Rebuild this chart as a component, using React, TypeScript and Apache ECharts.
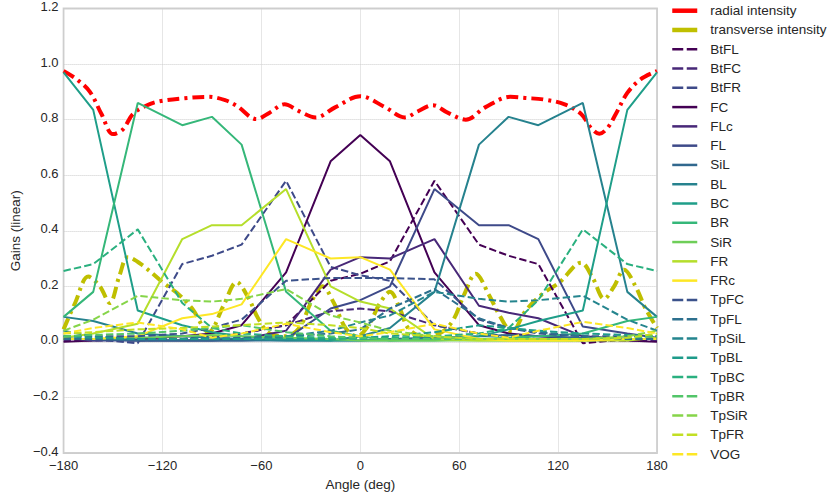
import React, { useEffect, useRef } from "react";
import * as echarts from "echarts";

// Speaker sample angles (deg)
const ANGLES = [-180, -162, -135, -108, -90, -72, -45, -18, 0, 18, 45, 72, 90, 108, 135, 162, 180];

// Intensity curves (smooth)
const RADIAL_ANGLES = [-180, -172, -164, -157, -150, -144, -138, -130, -122, -107, -92, -82, -75, -63, -55, -46, -37, -27, -15, 0, 15, 27, 35, 44, 53, 64, 76, 91, 100, 112, 124, 134, 140, 145, 150, 155, 162, 170, 180];
const RADIAL = [0.975, 0.945, 0.9, 0.82, 0.748, 0.765, 0.82, 0.85, 0.866, 0.877, 0.882, 0.87, 0.85, 0.802, 0.825, 0.855, 0.83, 0.808, 0.845, 0.884, 0.845, 0.808, 0.83, 0.852, 0.825, 0.8, 0.845, 0.882, 0.878, 0.872, 0.855, 0.82, 0.77, 0.749, 0.77, 0.82, 0.896, 0.945, 0.975];

const TRANS_ANGLES = [-180, -173, -165, -158, -152, -146, -141, -132, -120, -110, -102, -92, -83, -75, -68, -62, -55, -45, -37, -30, -23, -16, -9, -2, 5, 12, 18, 24, 29, 38, 48, 56, 63, 70, 78, 85, 92, 100, 110, 121, 134, 141, 148, 154, 160, 167, 173, 180];
const TRANS = [0.045, 0.14, 0.235, 0.2, 0.14, 0.24, 0.305, 0.275, 0.215, 0.17, 0.12, 0.035, 0.13, 0.215, 0.16, 0.085, 0.03, 0.02, 0.05, 0.14, 0.2, 0.14, 0.05, 0.02, 0.06, 0.14, 0.18, 0.12, 0.05, 0.02, 0.03, 0.075, 0.17, 0.245, 0.17, 0.09, 0.035, 0.11, 0.17, 0.215, 0.285, 0.23, 0.155, 0.2, 0.26, 0.2, 0.12, 0.05];

// Bottom layer
const BtFL = [0.01, 0.01, 0.01, 0.01, 0.02, 0.03, 0.06, 0.22, 0.245, 0.29, 0.58, 0.35, 0.31, 0.28, -0.005, 0.01, 0.01];
const BtFC = [0.005, 0.005, 0.005, 0.01, 0.015, 0.03, 0.06, 0.11, 0.12, 0.11, 0.06, 0.03, 0.015, 0.01, 0.005, 0.005, 0.005];
const BtFR = [0.01, 0.01, -0.005, 0.28, 0.31, 0.35, 0.58, 0.27, 0.24, 0.22, 0.06, 0.03, 0.02, 0.01, 0.01, 0.01, 0.01];

// Main layer
const FC = [0.0, 0.005, 0.01, 0.02, 0.03, 0.06, 0.25, 0.65, 0.745, 0.65, 0.25, 0.06, 0.03, 0.02, 0.01, 0.005, 0.0];
const FLc = [0.01, 0.01, 0.005, 0.005, 0.005, 0.01, 0.04, 0.26, 0.305, 0.3, 0.37, 0.13, 0.105, 0.085, 0.02, 0.01, 0.01];
const FL = [0.015, 0.005, 0.005, 0.005, 0.005, 0.005, 0.01, 0.12, 0.15, 0.2, 0.55, 0.42, 0.42, 0.37, 0.055, 0.03, 0.015];
const SiL = [0.01, 0.01, 0.005, 0.005, 0.005, 0.005, 0.005, 0.005, 0.005, 0.01, 0.015, 0.02, 0.025, 0.02, 0.015, 0.01, 0.01];
const BL = [0.09, 0.075, 0.03, 0.02, 0.015, 0.01, 0.005, 0.005, 0.02, 0.05, 0.18, 0.71, 0.81, 0.78, 0.86, 0.18, 0.09];
const BC = [0.97, 0.835, 0.113, 0.06, 0.035, 0.02, 0.01, 0.005, 0.005, 0.005, 0.01, 0.02, 0.045, 0.075, 0.113, 0.835, 0.97];
const BR = [0.09, 0.18, 0.86, 0.78, 0.81, 0.71, 0.18, 0.04, 0.02, 0.005, 0.005, 0.01, 0.015, 0.02, 0.03, 0.075, 0.09];
const SiR = [0.01, 0.01, 0.015, 0.02, 0.025, 0.02, 0.015, 0.01, 0.005, 0.005, 0.005, 0.005, 0.005, 0.005, 0.005, 0.01, 0.01];
const FR = [0.015, 0.03, 0.065, 0.37, 0.42, 0.42, 0.55, 0.2, 0.145, 0.12, 0.01, 0.005, 0.005, 0.005, 0.005, 0.005, 0.015];
const FRc = [0.01, 0.01, 0.02, 0.085, 0.1, 0.135, 0.37, 0.3, 0.305, 0.26, 0.045, 0.01, 0.005, 0.005, 0.005, 0.01, 0.01];

// Top layer
const TpFC = [0.02, 0.02, 0.02, 0.03, 0.05, 0.08, 0.22, 0.23, 0.23, 0.23, 0.225, 0.08, 0.05, 0.03, 0.02, 0.02, 0.02];
const TpFL = [0.01, 0.01, 0.01, 0.01, 0.01, 0.015, 0.02, 0.03, 0.045, 0.12, 0.19, 0.085, 0.05, 0.035, 0.02, 0.01, 0.01];
const TpSiL = [0.04, 0.02, 0.01, 0.01, 0.01, 0.01, 0.02, 0.04, 0.07, 0.095, 0.18, 0.155, 0.145, 0.15, 0.166, 0.08, 0.04];
const TpBL = [0.02, 0.015, 0.01, 0.01, 0.01, 0.01, 0.01, 0.01, 0.015, 0.02, 0.035, 0.06, 0.05, 0.04, 0.03, 0.025, 0.02];
const TpBC = [0.255, 0.28, 0.405, 0.14, 0.05, 0.03, 0.02, 0.015, 0.01, 0.015, 0.02, 0.03, 0.05, 0.15, 0.405, 0.28, 0.255];
const TpBR = [0.02, 0.025, 0.03, 0.04, 0.05, 0.06, 0.035, 0.02, 0.015, 0.01, 0.01, 0.01, 0.01, 0.01, 0.01, 0.015, 0.02];
const TpSiR = [0.04, 0.08, 0.166, 0.15, 0.145, 0.155, 0.19, 0.095, 0.07, 0.04, 0.02, 0.01, 0.01, 0.01, 0.01, 0.02, 0.04];
const TpFR = [0.03, 0.035, 0.045, 0.05, 0.055, 0.06, 0.07, 0.06, 0.05, 0.03, 0.02, 0.01, 0.01, 0.01, 0.01, 0.015, 0.03];
const VOG = [0.03, 0.05, 0.07, 0.045, 0.015, 0.03, 0.065, 0.035, 0.02, 0.035, 0.065, 0.03, 0.015, 0.04, 0.072, 0.05, 0.03];

const BT_NAMES = ["BtFL", "BtFC", "BtFR"];
const BT_VALUES = [BtFL, BtFC, BtFR];
const BT_COLORS = ["#440154", "#482878", "#3e4a89"];

const MAIN_NAMES = ["FC", "FLc", "FL", "SiL", "BL", "BC", "BR", "SiR", "FR", "FRc"];
const MAIN_VALUES = [FC, FLc, FL, SiL, BL, BC, BR, SiR, FR, FRc];
const MAIN_COLORS = ["#440154", "#482878", "#3e4a89", "#31688e", "#26828e", "#1f9e89", "#35b779", "#6ece58", "#b5de2b", "#fde725"];

const TP_NAMES = ["TpFC", "TpFL", "TpSiL", "TpBL", "TpBC", "TpBR", "TpSiR", "TpFR", "VOG"];
const TP_VALUES = [TpFC, TpFL, TpSiL, TpBL, TpBC, TpBR, TpSiR, TpFR, VOG];
const TP_COLORS = ["#3b528b", "#2d708e", "#25858e", "#1e9b8a", "#2ab07f", "#52c569", "#86d549", "#c2df23", "#fde725"];

const X_TICKS = [-180, -120, -60, 0, 60, 120, 180];

const FONT = "'Liberation Sans', Arial, Helvetica, sans-serif";
const TEXT_COLOR = "#262626";
const DASH = [7.4, 3.2];
const DASH_DOT = [12, 5, 3, 5];

const pairs = (xs: number[], ys: number[]) => xs.map((x, i) => [x, ys[i]]);
const fmt = (v: number, d: number) => v.toFixed(d).replace("-", "\u2212");

export default function App() {
  const ref = useRef<HTMLDivElement>(null);

  useEffect(() => {
    if (!ref.current) return;
    const chart = echarts.init(ref.current, undefined, { renderer: "svg" });

    const series: any[] = [];
    const legendData: any[] = [];
    const hiddenSymbol = { opacity: 0, borderWidth: 0 };

    series.push({
      name: "radial intensity",
      type: "line",
      data: pairs(RADIAL_ANGLES, RADIAL),
      smooth: 0.35,
      symbol: "none",
      lineStyle: { color: "#ff0000", width: 4, type: DASH_DOT },
      itemStyle: { color: "#ff0000" },
    });
    legendData.push({ name: "radial intensity", itemStyle: hiddenSymbol, lineStyle: { type: "solid", width: 4.5 } });

    series.push({
      name: "transverse intensity",
      type: "line",
      data: pairs(TRANS_ANGLES, TRANS),
      smooth: 0.35,
      symbol: "none",
      lineStyle: { color: "#bfbf00", width: 4, type: DASH_DOT },
      itemStyle: { color: "#bfbf00" },
    });
    legendData.push({ name: "transverse intensity", itemStyle: hiddenSymbol, lineStyle: { type: "solid", width: 4.5 } });

    const addGroup = (names: string[], values: number[][], colors: string[], dashed: boolean) => {
      names.forEach((n, i) => {
        series.push({
          name: n,
          type: "line",
          data: pairs(ANGLES, values[i]),
          symbol: "none",
          lineStyle: { color: colors[i], width: 2, type: dashed ? DASH : "solid" },
          itemStyle: { color: colors[i] },
        });
        legendData.push({
          name: n,
          itemStyle: hiddenSymbol,
          lineStyle: { width: 2.5, type: dashed ? [11, 3.5] : "solid" },
        });
      });
    };
    addGroup(BT_NAMES, BT_VALUES, BT_COLORS, true);
    addGroup(MAIN_NAMES, MAIN_VALUES, MAIN_COLORS, false);
    addGroup(TP_NAMES, TP_VALUES, TP_COLORS, true);

    chart.setOption({
      animation: false,
      backgroundColor: "#ffffff",
      textStyle: { fontFamily: FONT },
      grid: {
        left: 50,
        right: 174,
        top: 7,
        bottom: 36,
        show: true,
        borderColor: "#d0d0d0",
        borderWidth: 1.8,
        backgroundColor: "transparent",
      },
      legend: {
        orient: "vertical",
        left: 670,
        top: 3.7,
        padding: 0,
        itemWidth: 25,
        itemHeight: 14,
        itemGap: 5.28,
        data: legendData,
        selectedMode: false,
        itemStyle: hiddenSymbol,
        textStyle: {
          fontFamily: FONT,
          fontSize: 13.5,
          color: TEXT_COLOR,
          lineHeight: 14,
          padding: [0, 0, 0, 8],
        },
      },
      xAxis: {
        type: "value",
        min: -180,
        max: 180,
        interval: 60,
        name: "Angle (deg)",
        nameLocation: "middle",
        nameGap: 24,
        nameTextStyle: { fontFamily: FONT, fontSize: 13.5, color: TEXT_COLOR },
        axisLine: { show: false },
        axisTick: { show: false },
        axisLabel: {
          margin: 7,
          fontFamily: FONT,
          fontSize: 13,
          lineHeight: 10,
          color: TEXT_COLOR,
          formatter: (v: number) => (X_TICKS.includes(v) ? fmt(v, 0) : ""),
        },
        splitLine: { show: true, lineStyle: { color: "#cccccc", type: "dotted", width: 1 } },
      },
      yAxis: {
        type: "value",
        min: -0.4,
        max: 1.2,
        interval: 0.2,
        name: "Gains (linear)",
        nameLocation: "middle",
        nameGap: 38,
        nameTextStyle: { fontFamily: FONT, fontSize: 13.5, color: TEXT_COLOR },
        axisLine: { show: false },
        axisTick: { show: false },
        axisLabel: {
          margin: 5,
          fontFamily: FONT,
          fontSize: 13,
          color: TEXT_COLOR,
          formatter: (v: number) => "{t|" + fmt(v, 1) + "}",
          rich: {
            t: {
              fontFamily: FONT,
              fontSize: 13,
              color: TEXT_COLOR,
              lineHeight: 12,
              padding: [0, 0, 4, 0],
            },
          },
        },
        splitLine: { show: true, lineStyle: { color: "#cccccc", type: "dotted", width: 1 } },
      },
      series: series.map((s) => ({ ...s, emphasis: { disabled: true }, silent: true })),
    });

    return () => chart.dispose();
  }, []);

  return (
    <div
      ref={ref}
      style={{ position: "fixed", left: 0, top: 0, width: 831, height: 496, background: "#fff" }}
    />
  );
}
